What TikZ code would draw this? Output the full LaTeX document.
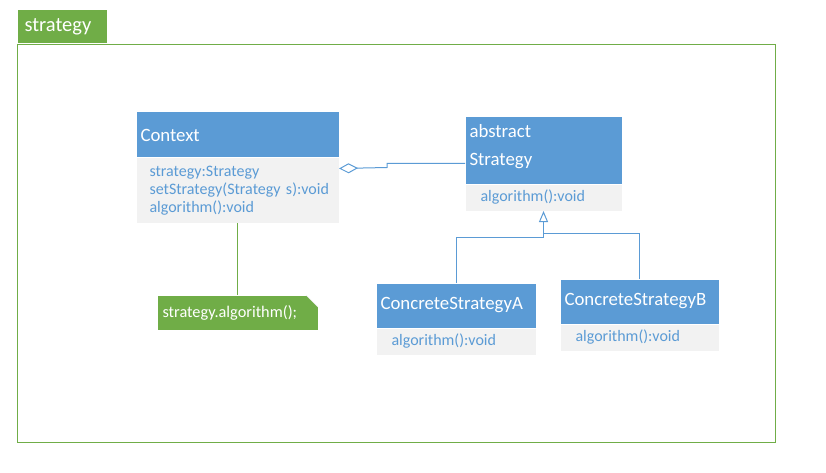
\documentclass[tikz,border=0pt]{standalone}
\usepackage{fontspec}
\setmainfont{Carlito}
\usepackage{tikz}
\usetikzlibrary{arrows.meta}
\usetikzlibrary{calc,positioning}
\usepackage{xcolor}

\definecolor{umlblue}{HTML}{5B9BD5}
\definecolor{umlgray}{HTML}{F2F2F2}
\definecolor{pkggreen}{HTML}{70AD47}

\begin{document}
\begin{tikzpicture}[ x=1pt, y=-1pt, line width=1pt,
      head/.style={fill=umlblue, text=white, anchor=north west, align=left,
        inner xsep=4pt, inner ysep=0pt, font=\fontsize{18.8}{22}\selectfont},
      body/.style={fill=umlgray, text=umlblue, anchor=north west, align=left,
        inner ysep=0pt, font=\fontsize{16}{18}\selectfont},
      link/.style={draw=umlblue},
      agg/.style={link, -{Diamond[open, length=19pt, width=10pt]}},
      gen/.style={link, -{Triangle[open, length=11pt, width=9pt]}} ]

      \useasboundingbox (0,0) rectangle (826,473);

      % Package frame and tab
      \node[draw=pkggreen, anchor=north west, minimum width=758pt,
        minimum height=398pt, inner sep=0pt] (pkg) at (17,44) {};
      \node[fill=pkggreen, text=white, anchor=south west, minimum width=89pt,
        minimum height=33pt, inner xsep=7pt, text width=75pt, align=left,
        font=\fontsize{20.5}{24}\selectfont] (tab) at (pkg.north west)
      {strategy};

      % Context
      \node[head, text width=194pt, minimum height=45pt] (ctx) at (136,112)
      {Context};
      \node[body, inner xsep=13pt, text width=176pt, minimum height=64pt]
      (ctxb) at (ctx.south west)
      {strategy:Strategy\\\mbox{setStrategy(Strategy s):void}\\algorithm():void};

      % Strategy
      \node[head, text width=148pt, minimum height=66pt] (st) at (465,117) {};
      \node[head, fill=none, inner sep=0pt, font=\fontsize{18.8}{28}\selectfont]
      (sttitle) at ([shift={(4,7)}]st.north west) {abstract\\Strategy};
      \node[body, inner xsep=15pt, text width=126pt, minimum height=26pt]
      (stb) at (st.south west) {algorithm():void};

      % Concrete strategies
      \node[head, text width=151pt, minimum height=44pt] (ca) at (376,283)
      {ConcreteStrategyA\\[-4pt]};
      \node[body, inner xsep=15pt, text width=129pt, minimum height=26pt]
      (cab) at (ca.south west) {algorithm():void};
      \node[head, text width=150pt, minimum height=44pt] (cb) at (560,279)
      {ConcreteStrategyB\\[-4pt]};
      \node[body, inner xsep=15pt, text width=128pt, minimum height=26pt]
      (cbb) at (cb.south west) {algorithm():void};

      % Note
      \node[fill=pkggreen, text=white, anchor=north west, minimum height=34pt,
        inner xsep=5pt, inner ysep=0pt, text width=150pt, align=left,
        font=\fontsize{16.3}{19}\selectfont] (note) at (157,295)
      {strategy.algorithm();};
      \fill[white] ([xshift=-12pt]note.north east) -- (note.north east) --
      ([yshift=-12pt]note.north east) -- cycle;
      \draw[umlgray, line width=0.6pt] ([xshift=-12pt]note.north east) --
      ([yshift=-12pt]note.north east);

      % Connectors
      \draw[pkggreen] (ctxb.south) -- (note.north);
      \draw[agg] ([yshift=-13pt]st.west) -- ++(-78,0) -- ++(0,4) --
      ([yshift=22pt]ctxb.east);
      \draw[gen] (ca.north) -- ++(0,-46) -| (stb.south);
      \draw[link] (cb.north) |- ([yshift=-22pt]stb.south);
    \end{tikzpicture}
\end{document}
